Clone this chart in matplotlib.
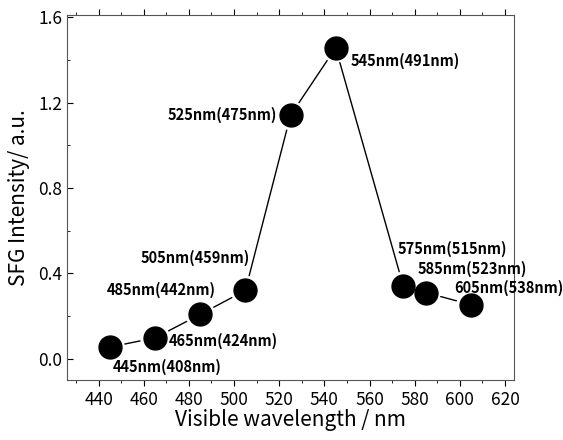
import matplotlib.pyplot as plt
from matplotlib.ticker import MultipleLocator

plt.rcParams['font.family'] = ['Noto Sans CJK JP', 'DejaVu Sans']

# data
wavelength = [445, 465, 485, 505, 525, 545, 575, 585, 605]
intensity = [0.055, 0.098, 0.208, 0.32, 1.14, 1.456, 0.339, 0.31, 0.253]
labels = ['445nm(408nm)', '465nm(424nm)', '485nm(442nm)', '505nm(459nm)',
          '525nm(475nm)', '545nm(491nm)', '575nm(515nm)', '585nm(523nm)',
          '605nm(538nm)']
# label offsets in pixels and alignment
offsets = [(3, -20, 'left'), (14, -3, 'left'), (16, 24, 'right'), (5, 33, 'right'),
           (-14, 0, 'right'), (15, -13, 'left'), (-6, 38, 'left'), (-8, 24, 'left'),
           (-17, 17, 'left')]

fig = plt.figure(figsize=(5.63, 4.40), dpi=100)
ax = fig.add_axes([0.119, 0.136, 0.794, 0.830])

# connecting lines with gaps near the markers
for i in range(len(wavelength) - 1):
    ax.annotate('', xy=(wavelength[i + 1], intensity[i + 1]),
                xytext=(wavelength[i], intensity[i]),
                arrowprops=dict(arrowstyle='-', color='black', lw=1.0,
                                shrinkA=11, shrinkB=11))

ax.plot(wavelength, intensity, 'o', color='black', markersize=16.5, zorder=3)

for x, y, lab, (dx, dy, ha) in zip(wavelength, intensity, labels, offsets):
    ax.annotate(lab, xy=(x, y), xytext=(dx, dy), textcoords='offset pixels',
                ha=ha, va='center', fontsize=10.5, fontweight='bold')

ax.set_xlim(426, 624)
ax.set_ylim(-0.1, 1.61)
ax.xaxis.set_major_locator(MultipleLocator(20))
ax.xaxis.set_minor_locator(MultipleLocator(10))
ax.yaxis.set_major_locator(MultipleLocator(0.4))
ax.yaxis.set_minor_locator(MultipleLocator(0.2))
ax.yaxis.set_major_formatter(plt.FormatStrFormatter('%.1f'))
ax.tick_params(axis='both', which='both', top=True, right=False, labelsize=12.5)
ax.tick_params(axis='x', which='both', direction='out')
ax.tick_params(axis='y', which='both', direction='in')
ax.tick_params(which='major', length=4)
ax.tick_params(which='minor', length=2)
for sp in ax.spines.values():
    sp.set_linewidth(0.8)
    sp.set_color('#555555')

ax.set_xlabel('Visible wavelength / nm', fontsize=15, labelpad=0)
ax.set_ylabel('SFG Intensity/ a.u.', fontsize=15, labelpad=6)

fig.savefig('out.png', dpi=100)
